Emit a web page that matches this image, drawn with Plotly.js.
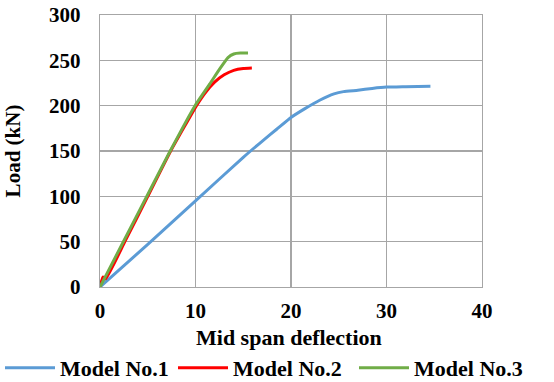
<!DOCTYPE html>
<html>
<head>
<meta charset="utf-8">
<script src="https://cdn.plot.ly/plotly-3.0.1.min.js"></script>
<style>html,body{margin:0;padding:0;background:#fff;}#chart{width:554px;height:382px;}</style>
</head>
<body>
<div id="chart"></div>
<script>
// Model No.1
const m1X = [0, 5, 10, 15, 17, 18.5, 20, 21.5, 23, 24.5, 25.5, 27, 28.5, 30, 32, 34.6];
const m1Y = [0, 47, 95, 143, 161, 174, 187, 197, 206, 213, 215.5, 217, 219, 220.5, 221, 221.5];
// Model No.2
const m2X = [0, 0.3, 0.6, 2.6, 5.0, 7.4, 10.1, 11.0, 12.0, 13.0, 14.0, 15.0, 15.9];
const m2Y = [0, 11, 9, 50, 100, 150, 200, 214, 226, 234, 239, 241, 241.5];
// Model No.3
const m3X = [0, 2.5, 5.0, 7.35, 9.95, 11.5, 12.5, 13.4, 14.0, 14.7, 15.5];
const m3Y = [0, 51, 102, 150, 200, 224, 240, 253, 257, 258, 258];

const names = ['Model No.1', 'Model No.2', 'Model No.3'];
const colors = ['#5b9bd5', '#ff0000', '#70ad47'];
const legendIds = ['legend', 'legend2', 'legend3'];
const xTitle = 'Mid span deflection';
const yTitle = 'Load (kN)';

const font = '"Liberation Serif", "Times New Roman", serif';
const traces = [[m1X, m1Y], [m2X, m2Y], [m3X, m3Y]].map((d, i) => ({
  x: d[0], y: d[1], name: names[i], type: 'scatter', mode: 'lines',
  legend: legendIds[i],
  line: {color: colors[i], width: 3, shape: 'spline', smoothing: 0.4}
}));

const axisCommon = {
  showgrid: true, gridcolor: '#a6a6a6', gridwidth: 1.3,
  showline: true, linecolor: '#a6a6a6', linewidth: 1.3, mirror: true,
  zeroline: false, ticks: '', automargin: false,
  tickfont: {family: font, size: 21, color: '#000', weight: 'bold'}
};

function legendAt(px) {
  return {
    orientation: 'h', xref: 'container', yref: 'container',
    x: px / 554, xanchor: 'left', y: 35 / 382, yanchor: 'top',
    font: {family: font, size: 22, color: '#000', weight: 'bold'},
    itemwidth: 50, bgcolor: 'rgba(0,0,0,0)'
  };
}

const layout = {
  width: 554, height: 382,
  margin: {l: 100, r: 72, t: 14.5, b: 95},
  paper_bgcolor: '#fff', plot_bgcolor: '#fff',
  font: {family: font, color: '#000'},
  xaxis: Object.assign({}, axisCommon, {
    range: [0, 40], tickvals: [0, 10, 20, 30, 40], ticktext: ['0', '10', '20', '30', '40'],
    ticklabelstandoff: 4
  }),
  yaxis: Object.assign({}, axisCommon, {
    range: [0, 300], tickvals: [0, 50, 100, 150, 200, 250, 300],
    ticktext: ['0', '50', '100', '150', '200', '250', '300'],
    ticklabelstandoff: 14,
    title: {text: '<b>' + yTitle + '</b>', font: {family: font, size: 21, color: '#000'}, standoff: 22}
  }),
  annotations: [{
    text: '<b>' + xTitle + '</b>', xref: 'paper', yref: 'paper', x: 0.495, y: -0.187,
    xanchor: 'center', yanchor: 'middle', showarrow: false,
    font: {family: font, size: 22, color: '#000'}
  }],
  showlegend: true,
  legend: legendAt(-6),
  legend2: legendAt(173),
  legend3: legendAt(354)
};

Plotly.newPlot('chart', traces, layout, {staticPlot: true, displayModeBar: false});
</script>
</body>
</html>
